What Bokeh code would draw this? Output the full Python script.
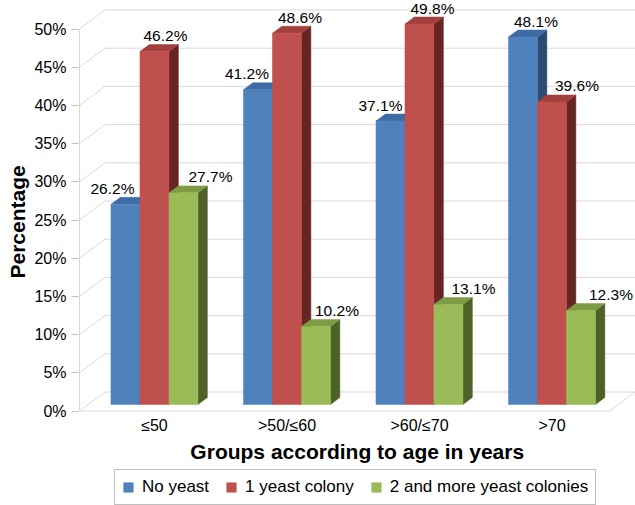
from bokeh.plotting import figure
from bokeh.models import (Range1d, FixedTicker, PrintfTickFormatter, Legend, LegendItem,
                          ColumnDataSource, Title)
from bokeh.embed import file_html
from bokeh.resources import INLINE
from bokeh.core.properties import value

# ---------------- data ----------------
categories = ["≤50", ">50/≤60", ">60/≤70", ">70"]
series_names = ["No yeast", "1 yeast colony", "2 and more yeast colonies"]
no_yeast = [26.2, 41.2, 37.1, 48.1]
one_colony = [46.2, 48.6, 49.8, 39.6]
two_plus = [27.7, 10.2, 13.1, 12.3]
y_ticks = [0, 5, 10, 15, 20, 25, 30, 35, 40, 45, 50]
x_title = "Groups according to age in years"
y_title = "Percentage"

# ---------------- style ----------------
front_colors = ["#4F81BD", "#C0504D", "#9BBB59"]
side_colors = ["#2B4B72", "#652523", "#4E6129"]
top_colors = ["#3E6DA6", "#A3403D", "#7F9C45"]
label_dx = [[-13, -11, -10, 13], [11, 13, 13, 25], [27, 21, 25, 30]]  # px shifts of data labels
FONT = "Liberation Sans"
GRID = "#D9D9D9"

FRAME_W, FRAME_H = 557, 505
PX_X = 132.5          # pixels per category slot
PX_Y = 7.64           # pixels per percent
FLOOR_PX = 410.5      # pixel row of the 0% front edge
X0 = -1.0 / PX_X
Y0 = -(FRAME_H - FLOOR_PX) / PX_Y
X_END = X0 + FRAME_W / PX_X
Y_END = Y0 + FRAME_H / PX_Y
WALL_DX, WALL_DY = 25.5, 19.0    # pixel depth of the 3D box
BAR_Z0, BAR_Z1 = 0.342, 0.71     # bar depth (fraction of box)
BAR_W = 29 / PX_X


def proj(z):
    return z * WALL_DX / PX_X, z * WALL_DY / PX_Y


p = figure(frame_width=FRAME_W, frame_height=FRAME_H,
           x_range=Range1d(X0, X_END), y_range=Range1d(Y0, Y_END),
           output_backend="svg", toolbar_location=None,
           min_border_left=77, min_border_right=1, min_border_top=0, min_border_bottom=0)
p.outline_line_color = None
p.xgrid.visible = False
p.ygrid.visible = False
p.xaxis.visible = False
p.background_fill_color = "white"

# ----- 3D box: walls, grid, floor -----
wdx, wdy = proj(1.0)
n_cat = len(categories)
gxs, gys = [], []
for v in y_ticks:
    gxs.append([0, wdx, n_cat + wdx])
    gys.append([v, v + wdy, v + wdy])
gxs.append([0, n_cat, n_cat + wdx])
gys.append([0, 0, wdy])
gxs.append([0, 0])
gys.append([0, y_ticks[-1]])
p.multi_line(xs=gxs, ys=gys, line_color=GRID, line_width=1)

# ----- bars -----
series = [no_yeast, one_colony, two_plus]
ox0, oy0 = proj(BAR_Z0)
ox1, oy1 = proj(BAR_Z1)
front_renderers = []
lab_x, lab_y, lab_t, lab_dx = [], [], [], []
for s, vals in enumerate(series):
    fx, fy, sx, sy, tx, ty = [], [], [], [], [], []
    for i, v in enumerate(vals):
        cx = i + 0.5 + (s - 1) * BAR_W
        x0 = cx - BAR_W / 2
        x1 = cx + BAR_W / 2
        fx.append([x0 + ox0, x1 + ox0, x1 + ox0, x0 + ox0])
        fy.append([oy0, oy0, v + oy0, v + oy0])
        sx.append([x1 + ox0, x1 + ox1, x1 + ox1, x1 + ox0])
        sy.append([oy0, oy1, v + oy1, v + oy0])
        tx.append([x0 + ox0, x1 + ox0, x1 + ox1, x0 + ox1])
        ty.append([v + oy0, v + oy0, v + oy1, v + oy1])
        lab_x.append(cx + ox0)
        lab_y.append(v + oy0)
        lab_t.append(f"{v:.1f}%")
        lab_dx.append(label_dx[s][i])
    p.patches(xs=sx, ys=sy, fill_color=side_colors[s], line_color=side_colors[s], line_width=0.5)
    p.patches(xs=tx, ys=ty, fill_color=top_colors[s], line_color=top_colors[s], line_width=0.5)
    r = p.patches(xs=fx, ys=fy, fill_color=front_colors[s], line_color=front_colors[s], line_width=0.5)
    front_renderers.append(r)

lab_src = ColumnDataSource(dict(x=lab_x, y=lab_y, text=lab_t, dx=lab_dx))
p.text(x="x", y="y", text="text", source=lab_src, x_offset="dx", y_offset=-16,
       text_align="center", text_baseline="middle", text_font=value(FONT),
       text_font_size="15.5px", text_color="black")

# ----- category labels and x title (below the floor) -----
cat_src = ColumnDataSource(dict(x=[i + 0.5 + ox0 for i in range(n_cat)], y=[0] * n_cat, text=categories))
p.text(x="x", y="y", text="text", source=cat_src, y_offset=14,
       text_align="center", text_baseline="middle", text_font=value(FONT),
       text_font_size="16px", text_color="black")
p.text(x=[(n_cat + wdx) / 2], y=[0], text=[x_title], y_offset=40,
       text_align="center", text_baseline="middle", text_font=value(FONT),
       text_font_size="21px", text_font_style="bold", text_color="black")

# ----- y axis -----
yax = p.yaxis[0]
yax.ticker = FixedTicker(ticks=y_ticks)
yax.formatter = PrintfTickFormatter(format="%d%%")
yax.axis_line_color = None
yax.major_tick_line_color = "#BFBFBF"
yax.major_tick_out = 7
yax.major_tick_in = 0
yax.minor_tick_line_color = None
yax.major_label_standoff = 5
yax.major_label_text_font = FONT
yax.major_label_text_font_size = "16px"
yax.major_label_text_color = "black"

# y title: starts above the bottom of the plot so it sits beside the 0-50 % axis
p.add_layout(Title(text=y_title, align="left", offset=227, standoff=6,
                   text_font=FONT, text_font_size="21px", text_font_style="bold",
                   text_color="black"), "left")

# ----- legend (inside the frame, bottom-left corner in px from frame corner) -----
legend = Legend(items=[LegendItem(label=n, renderers=[r]) for n, r in zip(series_names, front_renderers)],
                orientation="horizontal", location=(36, 0),
                border_line_color="#7F7F7F", border_line_width=1,
                label_text_font=FONT, label_text_font_size="17px", label_text_color="black",
                glyph_width=12, glyph_height=12, label_standoff=8, spacing=16,
                padding=7, margin=0, background_fill_color="white")
p.add_layout(legend, "center")

open("out.html", "w").write(file_html(p, INLINE))
